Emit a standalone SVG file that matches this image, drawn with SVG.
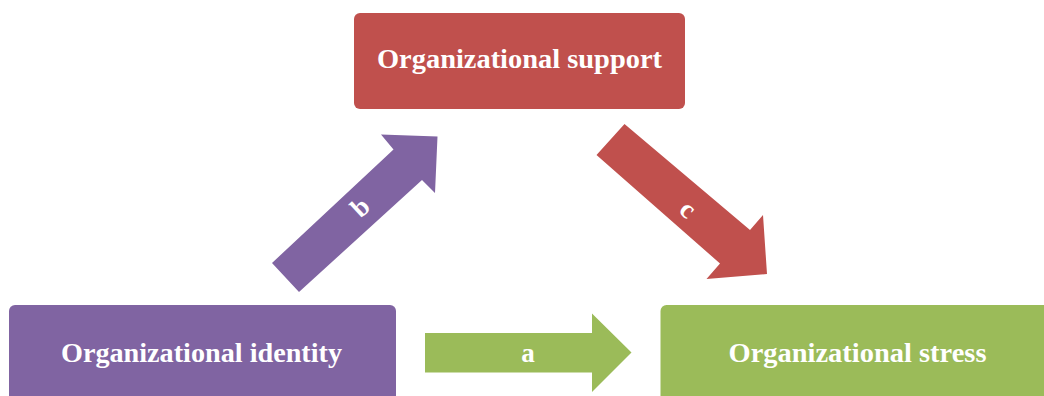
<svg xmlns="http://www.w3.org/2000/svg" width="1044" height="396" viewBox="0 0 1044 396">
<style>
.t{font-family:"Liberation Serif","Times New Roman",serif;font-weight:bold;font-size:27px;fill:#FFFFFF;text-anchor:middle}
.red{fill:#C0504D}
.pur{fill:#8064A2}
.grn{fill:#9BBB59}
</style>
<rect width="1044" height="396" fill="#FFFFFF"/>
<g id="connectors">
<g id="arrow-a">
<polygon class="grn" points="425,333 592,333 592,313.5 631.5,352.5 592,392 592,372.5 425,372.5"/>
<text class="t" x="528" y="362">a</text>
</g>
<g id="arrow-b">
<polygon class="pur" points="272,263 393.5,149.5 381,134.5 437.5,136.5 435,193 422,180 299,292"/>
<text class="t" transform="translate(360,207) rotate(-43)" x="0" y="9">b</text>
</g>
<g id="arrow-c">
<polygon class="red" points="624.5,124 750,230 763,215 767,274 706.5,279 720,263.5 596.5,155"/>
<text class="t" transform="translate(688,209) rotate(40)" x="0" y="9">c</text>
</g>
</g>
<g id="node-support">
<rect class="red" x="354" y="13" width="331" height="96" rx="6"/>
<text class="t" x="519.5" y="68" textLength="285" lengthAdjust="spacingAndGlyphs">Organizational support</text>
</g>
<g id="node-identity">
<rect class="pur" x="9" y="305" width="387" height="120" rx="6"/>
<text class="t" x="201.5" y="362" textLength="281" lengthAdjust="spacingAndGlyphs">Organizational identity</text>
</g>
<g id="node-stress">
<rect class="grn" x="660.5" y="305" width="400" height="120" rx="6"/>
<text class="t" x="857.5" y="362" textLength="258" lengthAdjust="spacingAndGlyphs">Organizational stress</text>
</g>
</svg>
